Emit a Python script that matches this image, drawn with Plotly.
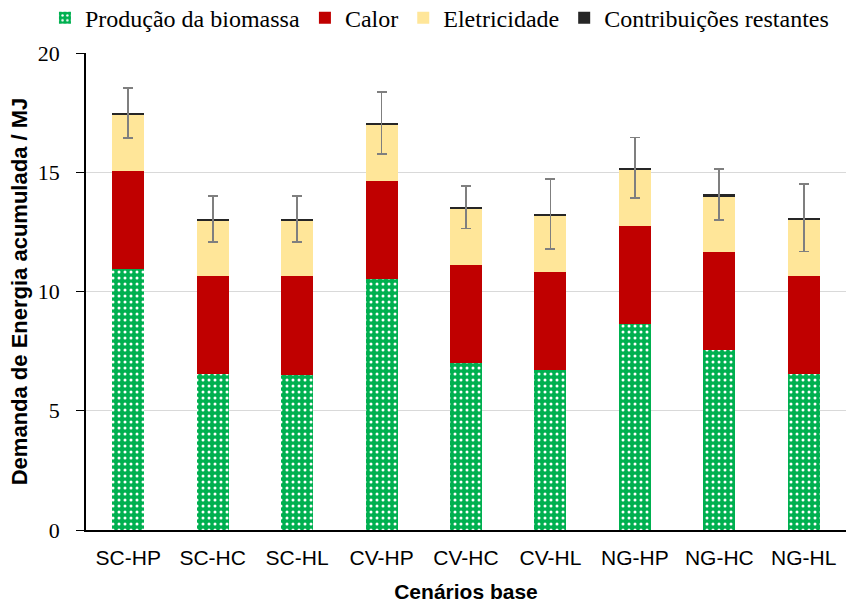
import plotly.graph_objects as go

categories = ["SC-HP", "SC-HC", "SC-HL", "CV-HP", "CV-HC", "CV-HL", "NG-HP", "NG-HC", "NG-HL"]
producao = [10.95, 6.55, 6.48, 10.52, 7.00, 6.70, 8.64, 7.53, 6.55]
calor = [4.10, 4.10, 4.17, 4.11, 4.11, 4.10, 4.12, 4.11, 4.11]
eletricidade = [2.37, 2.33, 2.33, 2.36, 2.36, 2.38, 2.36, 2.36, 2.37]
restantes = [0.07, 0.07, 0.07, 0.07, 0.07, 0.07, 0.07, 0.07, 0.07]
erro = [1.05, 0.97, 0.97, 1.30, 0.90, 1.47, 1.27, 1.08, 1.42]
y_ticks = [0, 5, 10, 15, 20]

serif = "Liberation Serif, Times New Roman, serif"
sans = "Liberation Sans, Arial, sans-serif"

fig = go.Figure()
bw = 0.38
fig.add_trace(go.Bar(
    x=categories, y=producao, name="Produção da biomassa", width=bw,
    marker=dict(color="#00B050", line=dict(width=0),
                pattern=dict(shape=".", fgcolor="white", bgcolor="#00B050",
                             size=6, solidity=0.2, fillmode="replace")),
))
fig.add_trace(go.Bar(x=categories, y=calor, name="Calor", width=bw,
                     marker=dict(color="#C00000", line=dict(width=0))))
fig.add_trace(go.Bar(x=categories, y=eletricidade, name="Eletricidade", width=bw,
                     marker=dict(color="#FFE699", line=dict(width=0))))
fig.add_trace(go.Bar(x=categories, y=restantes, name="Contribuições restantes", width=bw,
                     marker=dict(color="#262626", line=dict(width=0)),
                     error_y=dict(type="data", array=erro, visible=True,
                                  color="#7F7F7F", thickness=1.8, width=5)))

fig.update_layout(
    barmode="stack",
    width=846, height=604,
    margin=dict(l=86, r=0, t=53, b=74, autoexpand=False),
    plot_bgcolor="white", paper_bgcolor="white",
    showlegend=True,
    legend=dict(orientation="h", x=-0.054, y=1.12, xanchor="left", yanchor="top",
                font=dict(family=serif, size=24, color="black"),
                itemwidth=30, tracegroupgap=0, traceorder="normal",
                bgcolor="rgba(0,0,0,0)"),
)
fig.update_xaxes(
    showline=True, linecolor="black", linewidth=1.5,
    tickfont=dict(family=sans, size=21, color="black"),
    ticklabelstandoff=8,
    title=dict(text="<b>Cenários base</b>", font=dict(family=sans, size=21, color="black"), standoff=16),
    ticks="", showgrid=False,
)
fig.update_yaxes(
    range=[0, 20], tickvals=y_ticks,
    showline=True, linecolor="black", linewidth=1.5,
    ticks="outside", ticklen=8, tickcolor="black",
    ticklabelstandoff=12,
    showgrid=True, gridcolor="#D9D9D9", gridwidth=1,
    tickfont=dict(family=serif, size=22, color="black"),
    title=dict(text="<b>Demanda de Energia acumulada / MJ</b>", font=dict(family=sans, size=22, color="black"), standoff=4),
    zeroline=False,
)

fig.write_html("out.html")
